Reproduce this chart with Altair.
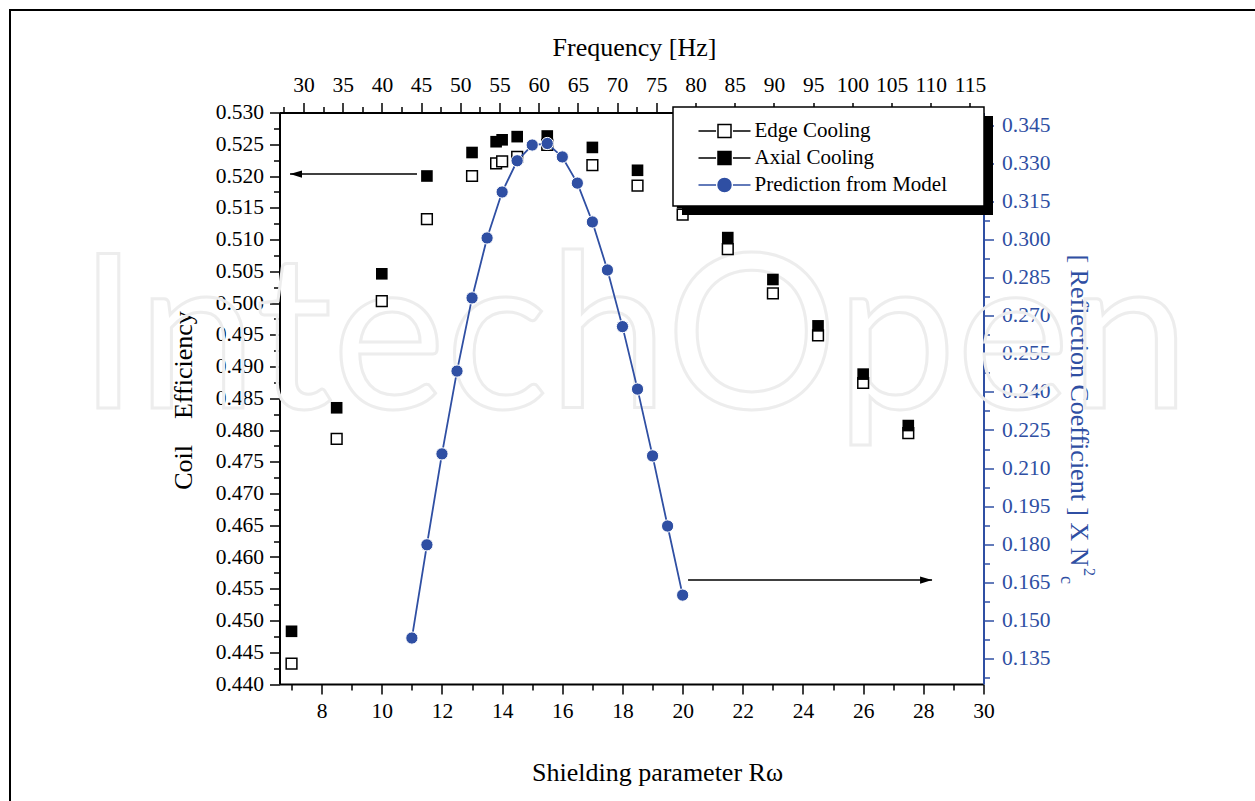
import altair as alt
import pandas as pd

# ---------------- data ----------------
rw_sq = [7.0, 8.5, 10.0, 11.5, 13.0, 13.8, 14.0, 14.5, 15.5, 17.0, 18.5, 20.0, 21.5, 23.0, 24.5, 26.0, 27.5]
edge_eff = [0.4432, 0.4786, 0.5003, 0.5132, 0.5200, 0.5220, 0.5223, 0.5230, 0.5249, 0.5217,
            0.5185, 0.5139, 0.5085, 0.5015, 0.4949, 0.4874, 0.4795]
axial_eff = [0.4483, 0.4835, 0.5046, 0.5200, 0.5237, 0.5254, 0.5257, 0.5262, 0.5263, 0.5245,
             0.5209, 0.5158, 0.5103, 0.5037, 0.4964, 0.4888, 0.4807]

rw_model = [11.0, 11.5, 12.0, 12.5, 13.0, 13.5, 14.0, 14.5, 15.0, 15.5,
            16.0, 16.5, 17.0, 17.5, 18.0, 18.5, 19.0, 19.5, 20.0]
refl_model = [0.1431, 0.1798, 0.2156, 0.2482, 0.2770, 0.3006, 0.3187, 0.3310, 0.3372, 0.3378,
              0.3325, 0.3222, 0.3069, 0.2880, 0.2657, 0.2411, 0.2148, 0.1872, 0.1600]

series_names = ["Edge Cooling", "Axial Cooling", "Prediction from Model"]

# arrows (data coordinates)
arrow_left_from = [11.17]
arrow_left_to = [6.95]
arrow_left_y = [0.5203]
arrow_right_from = [20.18]
arrow_right_to = [28.29]
arrow_right_y = [0.1659]

# tick positions
rw_ticks = [7, 8, 9, 10, 11, 12, 13, 14, 15, 16, 17, 18, 19, 20, 21, 22, 23, 24, 25, 26, 27, 28, 29, 30]
freq_ticks = [27.5 + 2.5 * i for i in range(36)]
eff_ticks = [round(0.44 + 0.0025 * i, 4) for i in range(37)]
refl_ticks = [round(0.1275 + 0.0075 * i, 4) for i in range(30)]

# ---------------- style ----------------
FONT = "Liberation Serif"
BLUE = "#2f4fa3"
W, H = 704, 571.5
LEFT, TOP = 279.5, 112.5
NB = "\u00a0"

x_rw = alt.Scale(domain=[6.6, 30], nice=False, zero=False)
x_freq = alt.Scale(domain=[26.94, 116.73], nice=False, zero=False)
y_eff = alt.Scale(domain=[0.44, 0.53], nice=False, zero=False)
y_refl = alt.Scale(domain=[0.125, 0.35], nice=False, zero=False)


def mk_axis(orient, values, major_test, label_expr, title, color, tx, ty, **kw):
    return alt.Axis(
        orient=orient, values=values, grid=False,
        labelExpr=label_expr, labelFont=FONT, labelFontSize=21.5, labelColor=color,
        labelOverlap=False, labelFlush=False,
        tickSize={"condition": {"test": major_test, "value": 10}, "value": 6},
        tickWidth=1.5, tickColor=color, domainColor=color, domainWidth=2,
        title=title, titleFont=FONT, titleFontSize=26, titleFontWeight="normal",
        titleColor=color, titleX=tx, titleY=ty, titleAlign="center", titleBaseline="middle",
        **kw)


bottom_axis = mk_axis("bottom", rw_ticks, "datum.value % 2 == 0",
                      "datum.value % 2 == 0 ? datum.label : ''",
                      "Shielding parameter Rω", "black", 657 - LEFT, 772 - (TOP + H), labelPadding=6)
top_axis = mk_axis("top", freq_ticks, "round(datum.value * 2) % 2 == 0",
                   "round(datum.value * 2) % 2 == 0 ? datum.label : ''",
                   "Frequency [Hz]", "black", 634 - LEFT, 47 - TOP, labelPadding=6)
left_axis = mk_axis("left", eff_ticks, "round(datum.value * 400) % 2 == 0",
                    "round(datum.value * 400) % 2 == 0 ? format(datum.value, '.3f') : ''",
                    "Coil" + NB * 4 + "Efficiency", "black", 183 - LEFT, 400 - TOP, labelPadding=6)
right_axis = mk_axis("right", refl_ticks, "round(datum.value * 400 / 3) % 2 == 0",
                     "round(datum.value * 400 / 3) % 2 == 0 ? format(datum.value, '.3f') : ''",
                     "[ Reflection Coefficient ] X N", BLUE, 1078 - (LEFT + W), 410 - TOP,
                     labelPadding=8)

sq_df = pd.DataFrame({"rw": rw_sq, "edge": edge_eff, "axial": axial_eff})
model_df = pd.DataFrame({"rw": rw_model, "refl": refl_model})

frame = alt.Chart(pd.DataFrame({"k": [0]})).mark_rect(
    fillOpacity=0, stroke="black", strokeWidth=2).encode(
    x=alt.value(10 - LEFT), x2=alt.value(1400), y=alt.value(10 - TOP), y2=alt.value(900))

watermark = alt.Chart(pd.DataFrame({"t": ["IntechOpen"]})).mark_text(
    font="Lato", fontSize=215, fillOpacity=0, stroke="#ededed", strokeWidth=3,
    align="center", baseline="alphabetic").encode(
    text="t:N", x=alt.value(634 - LEFT), y=alt.value(408 - TOP))

open_sq = alt.Chart(sq_df).mark_point(
    shape="square", size=115, filled=True, fill="white", stroke="black",
    strokeWidth=1.5, opacity=1).encode(
    x=alt.X("rw:Q", scale=x_rw, axis=bottom_axis),
    y=alt.Y("edge:Q", scale=y_eff, axis=left_axis))

filled_sq = alt.Chart(sq_df).mark_point(
    shape="square", size=135, filled=True, fill="black", opacity=1).encode(
    x=alt.X("rw:Q", scale=x_rw, axis=None),
    y=alt.Y("axial:Q", scale=y_eff, axis=None))

line = alt.Chart(model_df).mark_line(color=BLUE, strokeWidth=1.8).encode(
    x=alt.X("rw:Q", scale=x_rw, axis=None),
    y=alt.Y("refl:Q", scale=y_refl, axis=right_axis))

circles = alt.Chart(model_df).mark_point(
    shape="circle", size=150, filled=True, fill=BLUE, stroke="white",
    strokeWidth=1, opacity=1).encode(
    x=alt.X("rw:Q", scale=x_rw, axis=None),
    y=alt.Y("refl:Q", scale=y_refl, axis=None))

la_df = pd.DataFrame({"a": arrow_left_from, "b": arrow_left_to, "y": arrow_left_y})
ra_df = pd.DataFrame({"a": arrow_right_from, "b": arrow_right_to, "y": arrow_right_y})

la_rule = alt.Chart(la_df).mark_rule(color="black", strokeWidth=1.5).encode(
    x=alt.X("a:Q", scale=x_rw, axis=None), x2="b:Q",
    y=alt.Y("y:Q", scale=y_eff, axis=None))
la_head = alt.Chart(la_df).mark_point(
    shape="M0,0L2,-0.6L2,0.6Z", size=144, filled=True, color="black", opacity=1).encode(
    x=alt.X("b:Q", scale=x_rw, axis=None),
    y=alt.Y("y:Q", scale=y_eff, axis=None))
ra_rule = alt.Chart(ra_df).mark_rule(color="black", strokeWidth=1.5).encode(
    x=alt.X("a:Q", scale=x_rw, axis=None), x2="b:Q",
    y=alt.Y("y:Q", scale=y_refl, axis=None))
ra_head = alt.Chart(ra_df).mark_point(
    shape="M0,0L-2,-0.6L-2,0.6Z", size=144, filled=True, color="black", opacity=1).encode(
    x=alt.X("b:Q", scale=x_rw, axis=None),
    y=alt.Y("y:Q", scale=y_refl, axis=None))

# legend frame with drop shadow (decoration, pixel positioned)
shadow = alt.Chart(pd.DataFrame({"k": [0]})).mark_rect(color="black").encode(
    x=alt.value(682 - LEFT), x2=alt.value(993 - LEFT),
    y=alt.value(116 - TOP), y2=alt.value(215 - TOP))
legend_box = alt.Chart(pd.DataFrame({"k": [0]})).mark_rect(
    fill="white", stroke="black", strokeWidth=1.5).encode(
    x=alt.value(673 - LEFT), x2=alt.value(984 - LEFT),
    y=alt.value(107 - TOP), y2=alt.value(206 - TOP))

freq_layer = alt.Chart(pd.DataFrame({"f": [30, 115]})).mark_point(opacity=0).encode(
    x=alt.X("f:Q", scale=x_freq, axis=top_axis))

SQ_PATH = "M-2,0L-0.65,0M0.65,0L2,0M-0.5,-0.5L0.5,-0.5L0.5,0.5L-0.5,0.5Z"
CI_PATH = "M-2,0L-0.65,0M0.65,0L2,0M0.5,0A0.5,0.5,0,1,1,-0.5,0A0.5,0.5,0,1,1,0.5,0Z"
leg = alt.Legend(
    title=None, orient="none", legendX=673 - LEFT, legendY=107 - TOP,
    padding=10, symbolSize=676, symbolStrokeWidth=1.5, symbolOffset=27.5, labelOffset=16,
    labelFont=FONT, labelFontSize=21, labelColor="black", labelLimit=400, rowPadding=3)
legend_layer = alt.Chart(pd.DataFrame({"series": series_names})).mark_point(
    filled=True, opacity=1, strokeWidth=1.5).encode(
    x=alt.value(-600), y=alt.value(-600),
    shape=alt.Shape("series:N", scale=alt.Scale(domain=series_names, range=[SQ_PATH, SQ_PATH, CI_PATH]), legend=leg),
    fill=alt.Fill("series:N", scale=alt.Scale(domain=series_names, range=["white", "black", BLUE]), legend=leg),
    stroke=alt.Stroke("series:N", scale=alt.Scale(domain=series_names, range=["black", "black", BLUE]), legend=leg))

sup = alt.Chart(pd.DataFrame({"t": ["2"]})).mark_text(
    font=FONT, fontSize=16, color=BLUE, angle=90, align="center", baseline="middle").encode(
    text="t:N", x=alt.value(1089 - LEFT), y=alt.value(572 - TOP))
sub = alt.Chart(pd.DataFrame({"t": ["c"]})).mark_text(
    font=FONT, fontSize=18, color=BLUE, angle=90, align="center", baseline="middle").encode(
    text="t:N", x=alt.value(1066 - LEFT), y=alt.value(580 - TOP))

chart = alt.layer(
    frame, watermark, open_sq, filled_sq, line, circles,
    la_rule, la_head, ra_rule, ra_head, shadow, legend_box, freq_layer, legend_layer, sup, sub
).resolve_scale(x="independent", y="independent").properties(
    width=W, height=H,
    autosize=alt.AutoSizeParams(type="none"),
    padding={"left": LEFT, "top": TOP, "right": 1255 - LEFT - W, "bottom": 801 - TOP - H},
).configure_view(stroke=None).configure(background="white")

chart.save("out.html", embed_options={"renderer": "svg", "actions": False})
